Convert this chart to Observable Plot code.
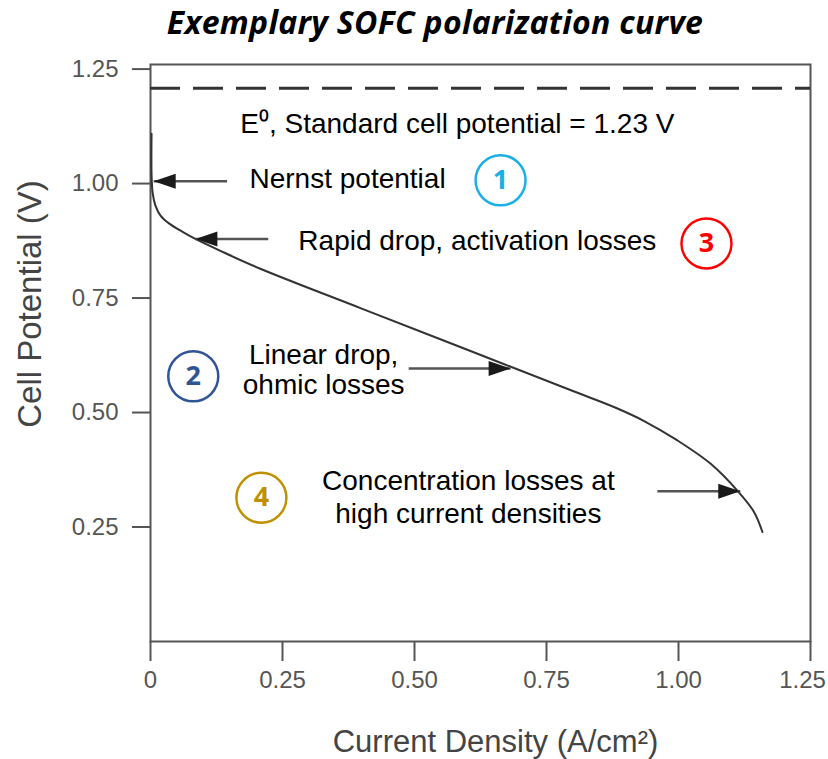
<!DOCTYPE html>
<html>
<head>
<meta charset="utf-8">
<script src="https://cdn.jsdelivr.net/npm/d3@7"></script>
<script src="https://cdn.jsdelivr.net/npm/@observablehq/plot@0.6"></script>
<style>
  html, body { margin: 0; padding: 0; background: #fff; }
  #title {
    height: 48px; width: 828px; box-sizing: border-box;
    padding-left: 42px; text-align: center; overflow: visible;
    font-family: "Open Sans", sans-serif; font-weight: 700; font-style: italic;
    font-size: 32px; line-height: 44px; letter-spacing: 0.3px; color: #000; white-space: nowrap;
  }
</style>
</head>
<body>
<div id="title">Exemplary SOFC polarization curve</div>
<div id="chart"></div>
<script>
// ---- data ----
const current   = [0.002, 0.002, 0.004, 0.009, 0.019, 0.035, 0.060, 0.085, 0.138, 0.208, 0.400, 0.600, 0.800, 0.880, 0.934, 0.998, 1.061, 1.111, 1.143, 1.159];
const potential = [1.109, 1.020, 0.980, 0.953, 0.930, 0.913, 0.895, 0.879, 0.850, 0.814, 0.727, 0.637, 0.547, 0.511, 0.482, 0.439, 0.388, 0.330, 0.283, 0.239];

const standardPotentialLine = [1.208];

const xTicks = [0, 0.25, 0.5, 0.75, 1.0, 1.25];
const yTicks = [0.25, 0.5, 0.75, 1.0, 1.25];

const arrowTailX = [0.145, 0.223, 0.489, 0.960];
const arrowTipX  = [0.006, 0.085, 0.682, 1.117];
const arrowY     = [1.005, 0.879, 0.596, 0.328];

const noteText   = ["E⁰, Standard cell potential = 1.23 V", "Nernst potential", "Rapid drop, activation losses", "Linear drop,\nohmic losses", "Concentration losses at\nhigh current densities"];
const noteX      = [0.170, 0.1875, 0.280, 0.328, 0.602];
const noteY      = [1.129, 1.010, 0.874, 0.594, 0.317];

const badgeNum   = ["1", "2", "3", "4"];
const badgeX     = [0.663, 0.081, 1.053, 0.210];
const badgeY     = [1.007, 0.579, 0.869, 0.314];
const badgeColor = ["#1AAFE6", "#2F5597", "#FF0000", "#BF9000"];

// ---- tables built from the arrays ----
const curve = current.map((c, i) => ({c, v: potential[i]}));
const arrows = arrowTailX.map((t, i) => ({x1: t, x2: arrowTipX[i], y: arrowY[i]}));
const arrowsLeft = arrows.filter(a => a.x2 < a.x1);
const arrowsRight = arrows.filter(a => a.x2 > a.x1);
const notes = noteText.map((t, i) => ({t, x: noteX[i], y: noteY[i]}));
const badges = badgeNum.map((n, i) => ({n, x: badgeX[i], y: badgeY[i], color: badgeColor[i]}));

const headRight = { draw(ctx) { ctx.moveTo(0, 0); ctx.lineTo(-22, -7.5); ctx.lineTo(-22, 7.5); ctx.closePath(); } };
const headLeft  = { draw(ctx) { ctx.moveTo(0, 0); ctx.lineTo(22, -7.5); ctx.lineTo(22, 7.5); ctx.closePath(); } };

const font = "'Liberation Sans', Arial, sans-serif";
const fmt = d => d === 0 ? "0" : d3.format(".2f")(d);
const lastTick = xTicks[xTicks.length - 1];

const chart = Plot.plot({
  width: 828,
  height: 711,
  marginTop: 16,
  marginBottom: 118,
  marginLeft: 150,
  marginRight: 18,
  x: {domain: [0, 1.25], label: null},
  y: {domain: [0, 1.26], label: null},
  color: {type: "identity"},
  style: {fontFamily: font, background: "white", overflow: "visible"},
  marks: [
    Plot.frame({stroke: "#555", strokeWidth: 2}),
    Plot.axisX({ticks: xTicks, tickFormat: d => d === lastTick ? "" : fmt(d), tickSize: 20, tickPadding: 9, fontSize: 24, color: "#555", strokeWidth: 2, label: null}),
    Plot.text([lastTick], {x: d => d, text: fmt, frameAnchor: "bottom", dy: 29, dx: -8, lineAnchor: "top", fontSize: 24, fill: "#555"}),
    Plot.axisY({ticks: yTicks, tickFormat: d3.format(".2f"), tickSize: 18, tickPadding: 14, fontSize: 24, color: "#555", strokeWidth: 2, label: null}),
    Plot.text(["Current Density (A/cm²)"], {frameAnchor: "bottom", dx: 15, dy: 101, fontSize: 31, fill: "#444", lineAnchor: "middle"}),
    Plot.text(["Cell Potential (V)"], {frameAnchor: "left", textAnchor: "middle", dx: -120, dy: -49, rotate: -90, fontSize: 33, fill: "#444", lineAnchor: "middle"}),
    Plot.ruleY(standardPotentialLine, {stroke: "#333", strokeWidth: 3, strokeDasharray: "30,13"}),
    Plot.line(curve, {x: "c", y: "v", stroke: "#333", strokeWidth: 2, curve: "catmull-rom"}),
    Plot.link(arrows, {x1: "x1", x2: "x2", y1: "y", y2: "y", stroke: "#555", strokeWidth: 2.5}),
    Plot.dot(arrowsLeft, {x: "x2", y: "y", symbol: headLeft, fill: "#1a1a1a", stroke: "none", r: 5}),
    Plot.dot(arrowsRight, {x: "x2", y: "y", symbol: headRight, fill: "#1a1a1a", stroke: "none", r: 5}),
    Plot.text(notes.slice(0, 3), {x: "x", y: "y", text: "t", textAnchor: "start", lineAnchor: "middle", fontSize: 28, fill: "#000"}),
    Plot.text(notes.slice(3, 4), {x: "x", y: "y", text: "t", textAnchor: "middle", lineAnchor: "middle", fontSize: 28, lineHeight: 1.08, fill: "#000"}),
    Plot.text(notes.slice(4, 5), {x: "x", y: "y", text: "t", textAnchor: "middle", lineAnchor: "middle", fontSize: 28, lineHeight: 1.18, fill: "#000"}),
    Plot.dot(badges, {x: "x", y: "y", r: 25, stroke: "color", strokeWidth: 2.5, fill: "white"}),
    Plot.text(badges, {x: "x", y: "y", text: "n", fill: "color", fontSize: 27, fontWeight: "bold", fontFamily: "'Open Sans', sans-serif", lineAnchor: "middle"})
  ]
});
document.getElementById("chart").appendChild(chart);
</script>
</body>
</html>
